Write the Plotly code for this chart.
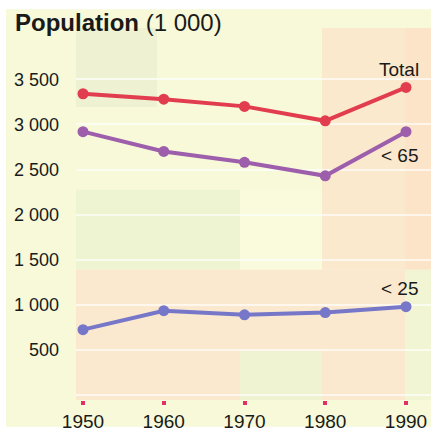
import plotly.graph_objects as go

years = [1950, 1960, 1970, 1980, 1990]
total = [3340, 3280, 3200, 3040, 3410]
under65 = [2920, 2700, 2580, 2430, 2920]
under25 = [725, 935, 890, 915, 980]
series_names = ["Total", "< 65", "< 25"]
series_colors = ["#e23d4e", "#9d5fab", "#7777c9"]
y_ticks = [500, 1000, 1500, 2000, 2500, 3000, 3500]
y_tick_labels = ["500", "1 000", "1 500", "2 000", "2 500", "3 000", "3 500"]

W, H = 431, 432
PL, PR, PT, PB = 76, 431, 28, 405  # plot area in window pixels
ML, MR, MT, MB = PL, W - PR, PT, H - PB
PW = PR - PL
PH = PB - PT


def px_x(p):
    return (p - PL) / PW


def px_y(p):
    return (PB - p) / PH


fig = go.Figure()
for name, vals, col in zip(series_names, [total, under65, under25], series_colors):
    fig.add_trace(go.Scatter(
        x=years, y=vals, mode="lines+markers", name=name,
        line=dict(color=col, width=4),
        marker=dict(color=col, size=11),
        showlegend=False, hoverinfo="x+y",
    ))

# background mosaic (window-pixel rectangles converted to paper coords)
patches = [
    (6, 9, 431, 432, "#f7f9d9"),
    (76, 28, 157, 108, "#eef2d3"),
    (322, 28, 431, 273, "#fbe9cd"),
    (405, 28, 431, 273, "#fce4c9"),
    (76, 192, 240, 273, "#eef3d2"),
    (240, 192, 322, 273, "#f9fbdc"),
    (76, 273, 405, 405, "#fbe9cf"),
    (240, 355, 322, 405, "#eff3d1"),
    (405, 273, 431, 405, "#f2f5d3"),
]
shapes = []
for x0, y0, x1, y1, c in patches:
    shapes.append(dict(type="rect", xref="paper", yref="paper",
                       x0=px_x(x0), x1=px_x(x1), y0=px_y(y1), y1=px_y(y0),
                       fillcolor=c, line=dict(width=0), layer="below"))

annotations = [
    dict(text="<b>Population</b> (1 000)", xref="paper", yref="paper",
         x=px_x(13), y=px_y(22), xanchor="left", yanchor="middle",
         showarrow=False, font=dict(size=24, color="#1a1a1a")),
]
label_pos = [(70, "Total"), (157, "< 65"), (292, "< 25")]
for py, txt in label_pos:
    annotations.append(dict(text=txt, xref="paper", yref="paper",
                            x=px_x(421), y=px_y(py), xanchor="right",
                            yanchor="middle", showarrow=False,
                            font=dict(size=19, color="#1a1a1a")))

x_per_px = 40 / (406 - 83)
y_per_px = 3500 / (400 - 80)

fig.update_layout(
    width=W, height=H,
    margin=dict(l=ML, r=MR, t=MT, b=MB, pad=0),
    paper_bgcolor="#ffffff",
    plot_bgcolor="rgba(0,0,0,0)",
    font=dict(family="Liberation Sans, Arial, sans-serif", color="#1a1a1a"),
    shapes=shapes,
    annotations=annotations,
    xaxis=dict(
        range=[1950 - (83 - PL) * x_per_px, 1990 + (PR - 406) * x_per_px],
        tickvals=years, ticktext=[str(y) for y in years],
        ticks="outside", ticklen=4, tickwidth=4, tickcolor="#e0306a",
        showgrid=False, zeroline=False, showline=False,
        tickfont=dict(size=19), ticklabelstandoff=0,
    ),
    yaxis=dict(
        range=[-(PB - 400) * y_per_px, 3500 + (80 - PT) * y_per_px],
        tickvals=[0] + y_ticks, ticktext=[""] + y_tick_labels,
        showgrid=True, gridcolor="rgba(255,255,255,0.65)", gridwidth=1.5,
        zeroline=False, showline=False, ticks="",
        tickfont=dict(size=18), ticklabelstandoff=16,
    ),
)

fig.write_html(
    "out.html",
    config={"displayModeBar": False},
    post_script="document.body.style.margin='0';document.body.style.overflow='hidden';",
)
